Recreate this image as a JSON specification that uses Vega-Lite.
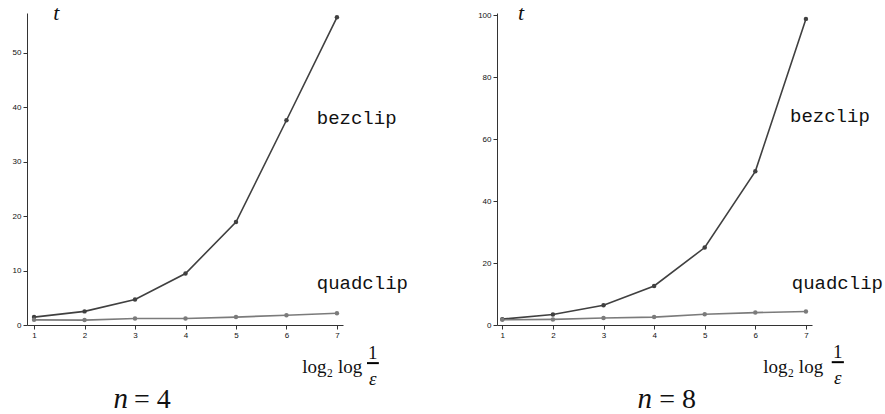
{
  "$schema": "https://vega.github.io/schema/vega-lite/v6.json",
  "padding": {"left": 12, "top": 1, "right": 0, "bottom": 0},
  "background": "white",
  "spacing": 154,
  "bounds": "flush",
  "config": {
    "view": {"stroke": null},
    "axis": {
      "grid": false, "title": null, "domainColor": "#333", "domainWidth": 1,
      "tickColor": "#333", "tickWidth": 1, "tickSize": 4, "labelFont": "Liberation Sans", "labelFontSize": 8,
      "labelColor": "#111", "labelPadding": 2
    }
  },
  "hconcat": [
    {
      "width": 316, "height": 312,
      "layer": [
        {
          "data": {"values": [
            {"x": 1, "t": 1.45, "method": "bezclip"}, {"x": 2, "t": 2.5, "method": "bezclip"}, {"x": 3, "t": 4.7, "method": "bezclip"}, {"x": 4, "t": 9.45, "method": "bezclip"}, {"x": 5, "t": 18.9, "method": "bezclip"}, {"x": 6, "t": 37.6, "method": "bezclip"}, {"x": 7, "t": 56.5, "method": "bezclip"},
            {"x": 1, "t": 0.95, "method": "quadclip"}, {"x": 2, "t": 0.9, "method": "quadclip"}, {"x": 3, "t": 1.2, "method": "quadclip"}, {"x": 4, "t": 1.2, "method": "quadclip"}, {"x": 5, "t": 1.45, "method": "quadclip"}, {"x": 6, "t": 1.8, "method": "quadclip"}, {"x": 7, "t": 2.15, "method": "quadclip"}
          ]},
          "layer": [
            {"mark": {"type": "line", "strokeWidth": 1.6}},
            {"mark": {"type": "point", "filled": true, "size": 20, "opacity": 1}}
          ],
          "encoding": {
            "x": {"field": "x", "type": "quantitative",
              "scale": {"domain": [0.86, 7.12], "nice": false, "zero": false},
              "axis": {"values": [1, 2, 3, 4, 5, 6, 7], "labelOverlap": false}},
            "y": {"field": "t", "type": "quantitative",
              "scale": {"domain": [0, 57.3], "nice": false},
              "axis": {"values": [0, 10, 20, 30, 40, 50], "labelOverlap": false}},
            "color": {"field": "method", "type": "nominal", "scale": {"domain": ["bezclip", "quadclip"], "range": ["#404040", "#7b7b7b"]}, "legend": null}
          }
        },
        {
          "data": {"values": [{"label": "bezclip", "x": 6.6, "t": 37.0}, {"label": "quadclip", "x": 6.6, "t": 6.7}]},
          "mark": {"type": "text", "align": "left", "baseline": "alphabetic", "font": "Liberation Mono", "fontSize": 19, "color": "#111"},
          "encoding": {"x": {"field": "x", "type": "quantitative"}, "y": {"field": "t", "type": "quantitative"}, "text": {"field": "label"}}
        },
        {
          "data": {"values": [{"label": "t", "x": 1.44, "t": 56.1}]},
          "mark": {"type": "text", "align": "center", "baseline": "alphabetic", "font": "Liberation Serif", "fontStyle": "italic", "fontSize": 22, "color": "#111"},
          "encoding": {"x": {"field": "x", "type": "quantitative"}, "y": {"field": "t", "type": "quantitative"}, "text": {"field": "label"}}
        },
        {
          "data": {"values": [{"label": "n", "x": 2.86, "t": -15.3}]},
          "mark": {"type": "text", "align": "right", "baseline": "alphabetic", "font": "Liberation Serif", "fontStyle": "italic", "fontSize": 29, "color": "#111"},
          "encoding": {"x": {"field": "x", "type": "quantitative"}, "y": {"field": "t", "type": "quantitative"}, "text": {"field": "label"}}
        },
        {
          "data": {"values": [{"label": "= 4", "x": 2.98, "t": -15.3}]},
          "mark": {"type": "text", "align": "left", "baseline": "alphabetic", "font": "Liberation Serif", "fontSize": 28, "color": "#111"},
          "encoding": {"x": {"field": "x", "type": "quantitative"}, "y": {"field": "t", "type": "quantitative"}, "text": {"field": "label"}}
        },
        {
          "data": {"values": [{"label": "log₂ log", "x": 7.5, "t": -8.9}]},
          "mark": {"type": "text", "align": "right", "baseline": "alphabetic", "font": "Liberation Serif", "fontSize": 19, "color": "#111"},
          "encoding": {"x": {"field": "x", "type": "quantitative"}, "y": {"field": "t", "type": "quantitative"}, "text": {"field": "label"}}
        },
        {
          "data": {"values": [{"label": "1", "x": 7.71, "t": -6.3}]},
          "mark": {"type": "text", "align": "center", "baseline": "alphabetic", "font": "Liberation Serif", "fontSize": 19, "color": "#111"},
          "encoding": {"x": {"field": "x", "type": "quantitative"}, "y": {"field": "t", "type": "quantitative"}, "text": {"field": "label"}}
        },
        {
          "data": {"values": [{"label": "ε", "x": 7.71, "t": -11.1}]},
          "mark": {"type": "text", "align": "center", "baseline": "alphabetic", "font": "Liberation Serif", "fontStyle": "italic", "fontSize": 19, "color": "#111"},
          "encoding": {"x": {"field": "x", "type": "quantitative"}, "y": {"field": "t", "type": "quantitative"}, "text": {"field": "label"}}
        },
        {
          "data": {"values": [{"x": 7.595, "x2": 7.83, "t": -7.0}]},
          "mark": {"type": "rule", "strokeWidth": 2, "color": "#000", "clip": false},
          "encoding": {"x": {"field": "x", "type": "quantitative"}, "x2": {"field": "x2"}, "y": {"field": "t", "type": "quantitative"}}
        }
      ]
    },
    {
      "width": 315, "height": 312,
      "layer": [
        {
          "data": {"values": [
            {"x": 1, "t": 1.9, "method": "bezclip"}, {"x": 2, "t": 3.4, "method": "bezclip"}, {"x": 3, "t": 6.4, "method": "bezclip"}, {"x": 4, "t": 12.6, "method": "bezclip"}, {"x": 5, "t": 25.0, "method": "bezclip"}, {"x": 6, "t": 49.6, "method": "bezclip"}, {"x": 7, "t": 98.8, "method": "bezclip"},
            {"x": 1, "t": 1.7, "method": "quadclip"}, {"x": 2, "t": 1.8, "method": "quadclip"}, {"x": 3, "t": 2.25, "method": "quadclip"}, {"x": 4, "t": 2.55, "method": "quadclip"}, {"x": 5, "t": 3.45, "method": "quadclip"}, {"x": 6, "t": 4.0, "method": "quadclip"}, {"x": 7, "t": 4.35, "method": "quadclip"}
          ]},
          "layer": [
            {"mark": {"type": "line", "strokeWidth": 1.6}},
            {"mark": {"type": "point", "filled": true, "size": 20, "opacity": 1}}
          ],
          "encoding": {
            "x": {"field": "x", "type": "quantitative",
              "scale": {"domain": [0.895, 7.12], "nice": false, "zero": false},
              "axis": {"values": [1, 2, 3, 4, 5, 6, 7], "labelOverlap": false}},
            "y": {"field": "t", "type": "quantitative",
              "scale": {"domain": [0, 100.7], "nice": false},
              "axis": {"values": [0, 20, 40, 60, 80, 100], "labelOverlap": false}},
            "color": {"field": "method", "type": "nominal", "scale": {"domain": ["bezclip", "quadclip"], "range": ["#404040", "#7b7b7b"]}, "legend": null}
          }
        },
        {
          "data": {"values": [{"label": "bezclip", "x": 6.685, "t": 65.5}, {"label": "quadclip", "x": 6.72, "t": 11.7}]},
          "mark": {"type": "text", "align": "left", "baseline": "alphabetic", "font": "Liberation Mono", "fontSize": 19, "color": "#111"},
          "encoding": {"x": {"field": "x", "type": "quantitative"}, "y": {"field": "t", "type": "quantitative"}, "text": {"field": "label"}}
        },
        {
          "data": {"values": [{"label": "t", "x": 1.37, "t": 98.6}]},
          "mark": {"type": "text", "align": "center", "baseline": "alphabetic", "font": "Liberation Serif", "fontStyle": "italic", "fontSize": 22, "color": "#111"},
          "encoding": {"x": {"field": "x", "type": "quantitative"}, "y": {"field": "t", "type": "quantitative"}, "text": {"field": "label"}}
        },
        {
          "data": {"values": [{"label": "n", "x": 3.96, "t": -26.95}]},
          "mark": {"type": "text", "align": "right", "baseline": "alphabetic", "font": "Liberation Serif", "fontStyle": "italic", "fontSize": 29, "color": "#111"},
          "encoding": {"x": {"field": "x", "type": "quantitative"}, "y": {"field": "t", "type": "quantitative"}, "text": {"field": "label"}}
        },
        {
          "data": {"values": [{"label": "= 8", "x": 4.1, "t": -26.95}]},
          "mark": {"type": "text", "align": "left", "baseline": "alphabetic", "font": "Liberation Serif", "fontSize": 28, "color": "#111"},
          "encoding": {"x": {"field": "x", "type": "quantitative"}, "y": {"field": "t", "type": "quantitative"}, "text": {"field": "label"}}
        },
        {
          "data": {"values": [{"label": "log₂ log", "x": 7.34, "t": -15.65}]},
          "mark": {"type": "text", "align": "right", "baseline": "alphabetic", "font": "Liberation Serif", "fontSize": 19, "color": "#111"},
          "encoding": {"x": {"field": "x", "type": "quantitative"}, "y": {"field": "t", "type": "quantitative"}, "text": {"field": "label"}}
        },
        {
          "data": {"values": [{"label": "1", "x": 7.63, "t": -10.5}]},
          "mark": {"type": "text", "align": "center", "baseline": "alphabetic", "font": "Liberation Serif", "fontSize": 19, "color": "#111"},
          "encoding": {"x": {"field": "x", "type": "quantitative"}, "y": {"field": "t", "type": "quantitative"}, "text": {"field": "label"}}
        },
        {
          "data": {"values": [{"label": "ε", "x": 7.63, "t": -19.2}]},
          "mark": {"type": "text", "align": "center", "baseline": "alphabetic", "font": "Liberation Serif", "fontStyle": "italic", "fontSize": 19, "color": "#111"},
          "encoding": {"x": {"field": "x", "type": "quantitative"}, "y": {"field": "t", "type": "quantitative"}, "text": {"field": "label"}}
        },
        {
          "data": {"values": [{"x": 7.51, "x2": 7.75, "t": -12.0}]},
          "mark": {"type": "rule", "strokeWidth": 2, "color": "#000", "clip": false},
          "encoding": {"x": {"field": "x", "type": "quantitative"}, "x2": {"field": "x2"}, "y": {"field": "t", "type": "quantitative"}}
        }
      ]
    }
  ]
}
